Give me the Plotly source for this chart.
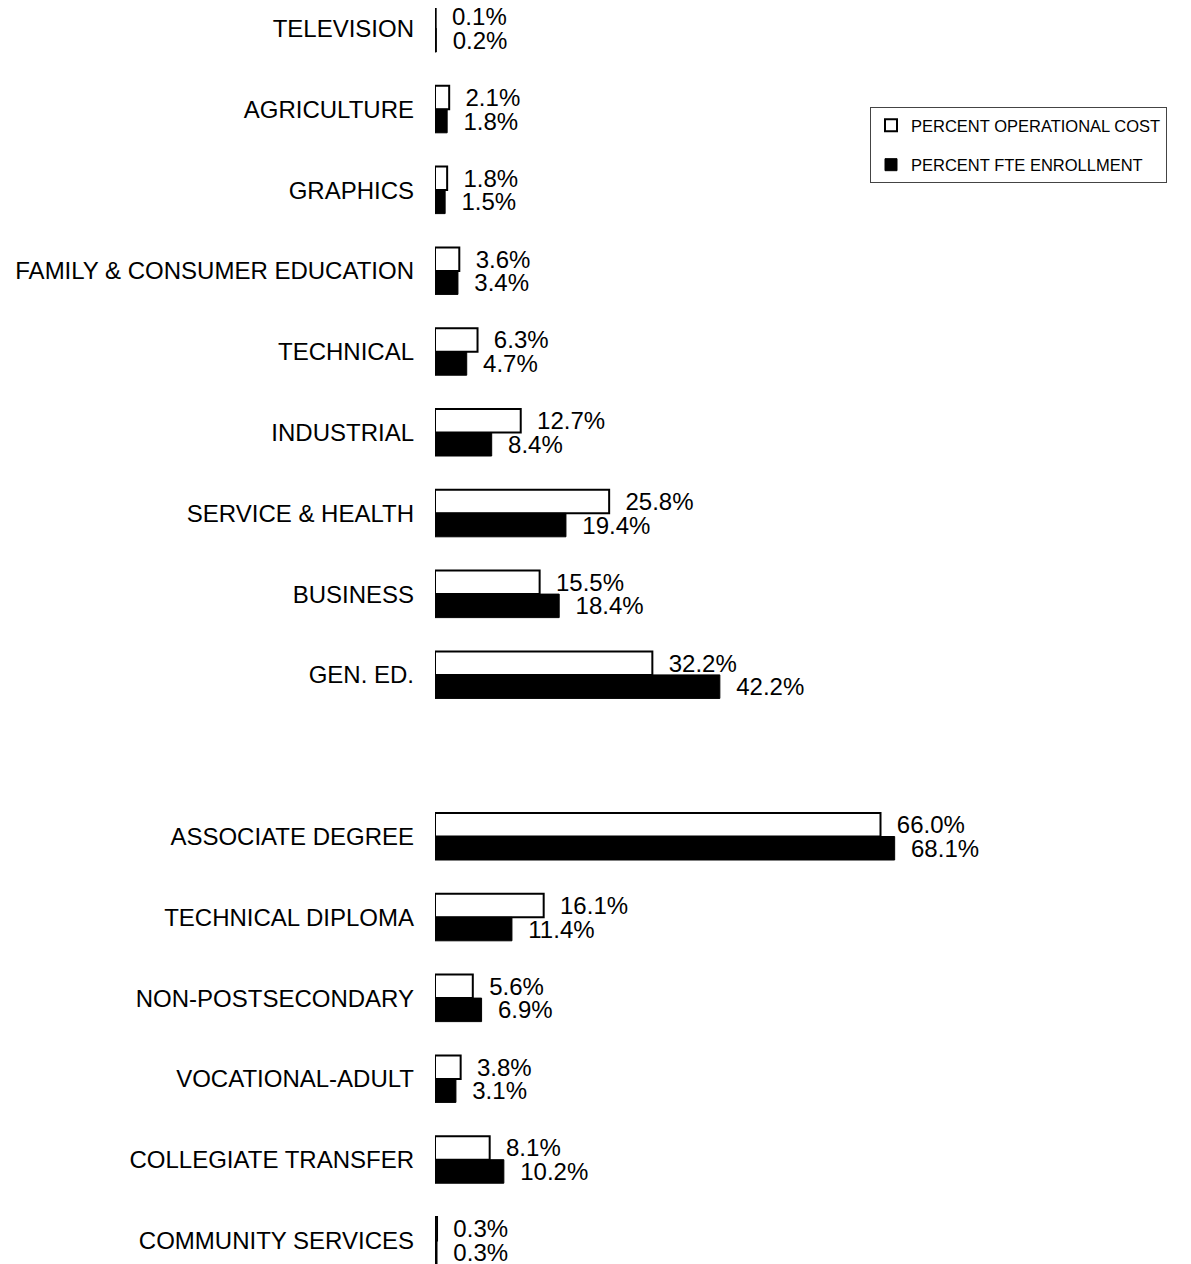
import plotly.graph_objects as go

categories = ["TELEVISION", "AGRICULTURE", "GRAPHICS", "FAMILY & CONSUMER EDUCATION",
              "TECHNICAL", "INDUSTRIAL", "SERVICE & HEALTH", "BUSINESS", "GEN. ED.",
              " ",
              "ASSOCIATE DEGREE", "TECHNICAL DIPLOMA", "NON-POSTSECONDARY",
              "VOCATIONAL-ADULT", "COLLEGIATE TRANSFER", "COMMUNITY SERVICES"]
operational_cost = [0.1, 2.1, 1.8, 3.6, 6.3, 12.7, 25.8, 15.5, 32.2, None,
                    66.0, 16.1, 5.6, 3.8, 8.1, 0.3]
fte_enrollment = [0.2, 1.8, 1.5, 3.4, 4.7, 8.4, 19.4, 18.4, 42.2, None,
                  68.1, 11.4, 6.9, 3.1, 10.2, 0.3]

FONT = "Liberation Sans, Arial, sans-serif"
PAD = "\u00a0\u00a0"

W, H = 1183, 1256          # page body has an 8px margin
L = 427                    # left margin (x = 0 of the value axis)
PLOT_W = W - L


def labels(vals):
    return ["" if v is None else f"{PAD}{v:.1f}%" for v in vals]


fig = go.Figure()
fig.add_trace(go.Bar(
    y=categories, x=operational_cost, orientation="h",
    name="PERCENT OPERATIONAL COST", legendgroup="a",
    marker=dict(color="white", line=dict(color="black", width=2)),
    text=labels(operational_cost), textposition="outside",
    textfont=dict(family=FONT, size=24, color="black"),
    constraintext="none", cliponaxis=False,
))
fig.add_trace(go.Bar(
    y=categories, x=fte_enrollment, orientation="h",
    name="PERCENT FTE ENROLLMENT", legendgroup="b",
    marker=dict(color="black", line=dict(color="black", width=1)),
    text=labels(fte_enrollment), textposition="outside",
    textfont=dict(family=FONT, size=24, color="black"),
    constraintext="none", cliponaxis=False,
))

fig.update_layout(
    width=W, height=H,
    margin=dict(l=L, r=0, t=0, b=0),
    paper_bgcolor="white", plot_bgcolor="white",
    barmode="group", bargap=0.418, bargroupgap=0,
    font=dict(family=FONT, color="black"),
    legend=dict(
        x=(862 - L) / PLOT_W, xanchor="left",
        y=1 - 99 / H, yanchor="top",
        bgcolor="white", bordercolor="#444", borderwidth=1,
        font=dict(family=FONT, size=16.5, color="black"),
        itemwidth=30, tracegroupgap=15,
    ),
    showlegend=True,
)
fig.update_xaxes(range=[0, PLOT_W / 6.75], visible=False, showgrid=False, zeroline=False)
fig.update_yaxes(
    type="category", categoryorder="array", categoryarray=categories,
    range=[(H - 20.5) / 80.8, -20.5 / 80.8], showgrid=False, zeroline=False, showline=False,
    ticks="", ticklabelstandoff=20, automargin=False,
    tickfont=dict(family=FONT, size=24, color="black"),
)

fig.write_html("out.html")
